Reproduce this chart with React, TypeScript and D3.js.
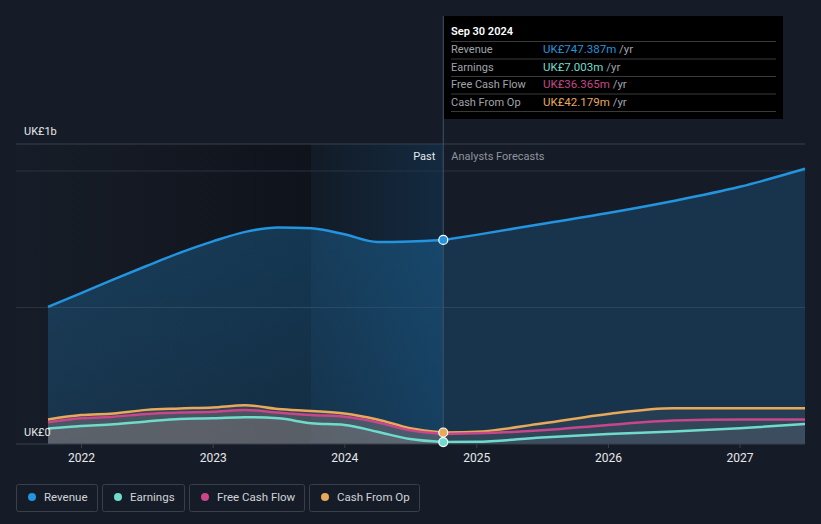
import React from "react";
import * as d3 from "d3";

const W = 821;
const H = 524;

const pastDates = [
  "2021-09-30", "2021-12-31", "2022-03-31", "2022-06-30", "2022-09-30", "2022-12-31",
  "2023-03-31", "2023-06-30", "2023-09-30", "2023-12-31", "2024-03-31", "2024-06-30", "2024-09-30",
];
const forecastDates = ["2024-09-30", "2024-12-31", "2025-06-30", "2025-12-31", "2026-06-30", "2026-12-31", "2027-06-30"];

const revenuePast = [502, 553, 603, 652, 700, 742, 777, 793, 790, 768, 740, 742, 747.387];
const revenueForecast = [747.387, 766, 806, 846, 890, 942, 1008];
const earningsPast = [57, 66, 72, 82, 92, 94, 98, 94, 76, 70, 45, 18, 7.003];
const earningsForecast = [7.003, 8, 24, 37, 46, 58, 73];
const fcfPast = [80, 94, 100, 110, 115, 118, 125, 115, 106, 100, 80, 50, 36.365];
const fcfForecast = [36.365, 39, 50, 70, 86, 90, 90];
const cfoPast = [90, 106, 112, 125, 130, 134, 142, 128, 121, 112, 90, 58, 42.179];
const cfoForecast = [42.179, 45, 75, 110, 131, 131, 131];

const seriesNames = ["Revenue", "Earnings", "Free Cash Flow", "Cash From Op"];
const seriesColors = ["#2394df", "#6fdccb", "#c9468a", "#e8a95a"];
const tooltipValues = ["UK£747.387m", "UK£7.003m", "UK£36.365m", "UK£42.179m"];
const yTickLabels = ["UK£0", "UK£1b"];

const parse = d3.timeParse("%Y-%m-%d");

type Pt = { d: Date; v: number };
const mk = (dates: string[], vals: number[]): Pt[] => dates.map((s, i) => ({ d: parse(s) as Date, v: vals[i] }));

export default function App() {
  const left = 16;
  const right = 805;
  const baseY = 444;
  const x = d3.scaleTime().domain([parse("2021-09-30") as Date, parse("2027-06-30") as Date]).range([48, 805]);
  const y = d3.scaleLinear().domain([0, 1000]).range([baseY, 171]);

  const series = [
    { past: mk(pastDates, revenuePast), fc: mk(forecastDates, revenueForecast) },
    { past: mk(pastDates, earningsPast), fc: mk(forecastDates, earningsForecast) },
    { past: mk(pastDates, fcfPast), fc: mk(forecastDates, fcfForecast) },
    { past: mk(pastDates, cfoPast), fc: mk(forecastDates, cfoForecast) },
  ];

  const line = d3.line<Pt>().x((p) => x(p.d)).y((p) => y(p.v)).curve(d3.curveMonotoneX);
  const area = d3.area<Pt>().x((p) => x(p.d)).y0(baseY).y1((p) => y(p.v)).curve(d3.curveMonotoneX);

  const nowX = x(parse("2024-09-30") as Date);
  const pastStartX = x(parse("2023-09-30") as Date);
  const years = [2022, 2023, 2024, 2025, 2026, 2027].map((yr) => new Date(yr, 0, 1));
  const fmt = d3.timeFormat("%Y");

  const font = "Roboto, 'Open Sans', sans-serif";
  const legendW = [81, 82, 115, 110];
  let lx = 16;
  const legendX = legendW.map((w) => {
    const s = lx;
    lx += w + 5;
    return s;
  });

  return (
    <svg width={W} height={H} style={{ position: "fixed", left: 0, top: 0 }} fontFamily={font}>
      <defs>
        <linearGradient id="pastBg" x1="0" x2="1" y1="0" y2="0">
          <stop offset="0" stopColor="#171d28" />
          <stop offset="1" stopColor="#0f131b" />
        </linearGradient>
        <linearGradient id="recentBg" x1="0" x2="1" y1="0" y2="0">
          <stop offset="0" stopColor="#121b27" />
          <stop offset="1" stopColor="#132a40" />
        </linearGradient>
        <linearGradient id="revFill" x1="0" x2="0" y1="0" y2="1">
          <stop offset="0" stopColor="#2394df" stopOpacity={0.28} />
          <stop offset="1" stopColor="#2394df" stopOpacity={0.2} />
        </linearGradient>
      </defs>
      <rect x={0} y={0} width={W} height={H} fill="#161c27" />
      <rect x={left} y={144} width={pastStartX - left} height={baseY - 144} fill="url(#pastBg)" />
      <rect x={pastStartX} y={144} width={nowX - pastStartX} height={baseY - 144} fill="url(#recentBg)" />

      {[1000, 500].map((v) => (
        <line key={v} x1={left} x2={right} y1={y(v)} y2={y(v)} stroke="#2b3240" strokeWidth={1} />
      ))}
      <line x1={left} x2={right} y1={144} y2={144} stroke="#3a414d" strokeWidth={1} />

      <path d={area(series[0].past) || ""} fill="url(#revFill)" />
      <path d={area(series[0].fc) || ""} fill="#2394df" fillOpacity={0.2} />

      {[3, 2, 1].map((i) => (
        <g key={"a" + i}>
          <path d={area(series[i].past) || ""} fill="#9a8f88" fillOpacity={0.22} />
          <path d={area(series[i].fc) || ""} fill="#6a6f78" fillOpacity={0.18} />
        </g>
      ))}

      {[3, 2, 1, 0].map((i) => (
        <g key={"l" + i}>
          <path d={line(series[i].past) || ""} fill="none" stroke={seriesColors[i]} strokeWidth={2.5} />
          <path d={line(series[i].fc) || ""} fill="none" stroke={seriesColors[i]} strokeWidth={2.5} />
        </g>
      ))}

      <line x1={left} x2={right} y1={baseY} y2={baseY} stroke="#3a414d" strokeWidth={1} />
      {years.map((d) => (
        <g key={fmt(d)}>
          <line x1={x(d)} x2={x(d)} y1={baseY} y2={baseY + 4} stroke="#3a414d" />
          <text x={x(d)} y={462} fill="#e6e8eb" fontSize={12} textAnchor="middle">
            {fmt(d)}
          </text>
        </g>
      ))}

      <text x={24} y={135} fill="#e6e8eb" fontSize={11}>{yTickLabels[1]}</text>
      <text x={24} y={436} fill="#e6e8eb" fontSize={11}>{yTickLabels[0]}</text>

      <line x1={nowX} x2={nowX} y1={16} y2={baseY} stroke="#3d5266" strokeWidth={1} />
      <text x={nowX - 8} y={160} fill="#e6e8eb" fontSize={11} textAnchor="end">Past</text>
      <text x={nowX + 8} y={160} fill="#8e949c" fontSize={11}>Analysts Forecasts</text>

      {[0, 3, 1].map((i) => (
        <circle key={"c" + i} cx={nowX} cy={y(series[i].past[series[i].past.length - 1].v)} r={4.5} fill={seriesColors[i]} stroke="#ffffff" strokeWidth={1.2} />
      ))}

      <rect x={444} y={16} width={339} height={103} fill="#000000" />
      <text x={451} y={35} fill="#ffffff" fontSize={11} fontWeight={600}>Sep 30 2024</text>
      {seriesNames.map((n, i) => (
        <g key={"t" + n}>
          <line x1={451} x2={776} y1={41.5 + i * 17.5} y2={41.5 + i * 17.5} stroke="#3a3a3a" />
          <text x={451} y={53 + i * 17.5} fill="#a0a4aa" fontSize={11}>{n}</text>
          <text x={543} y={53 + i * 17.5} fontSize={11.5}>
            <tspan fill={seriesColors[i]}>{tooltipValues[i]}</tspan>
            <tspan fill="#a0a4aa"> /yr</tspan>
          </text>
        </g>
      ))}
      <line x1={451} x2={776} y1={111.5} y2={111.5} stroke="#3a3a3a" />

      {seriesNames.map((n, i) => (
        <g key={"lg" + n}>
          <rect x={legendX[i] + 0.5} y={484.5} width={legendW[i]} height={27} rx={2} fill="none" stroke="#3a404a" />
          <circle cx={legendX[i] + 16} cy={497} r={4} fill={seriesColors[i]} />
          <text x={legendX[i] + 28} y={501} fill="#d0d3d8" fontSize={11.5}>{n}</text>
        </g>
      ))}
    </svg>
  );
}
